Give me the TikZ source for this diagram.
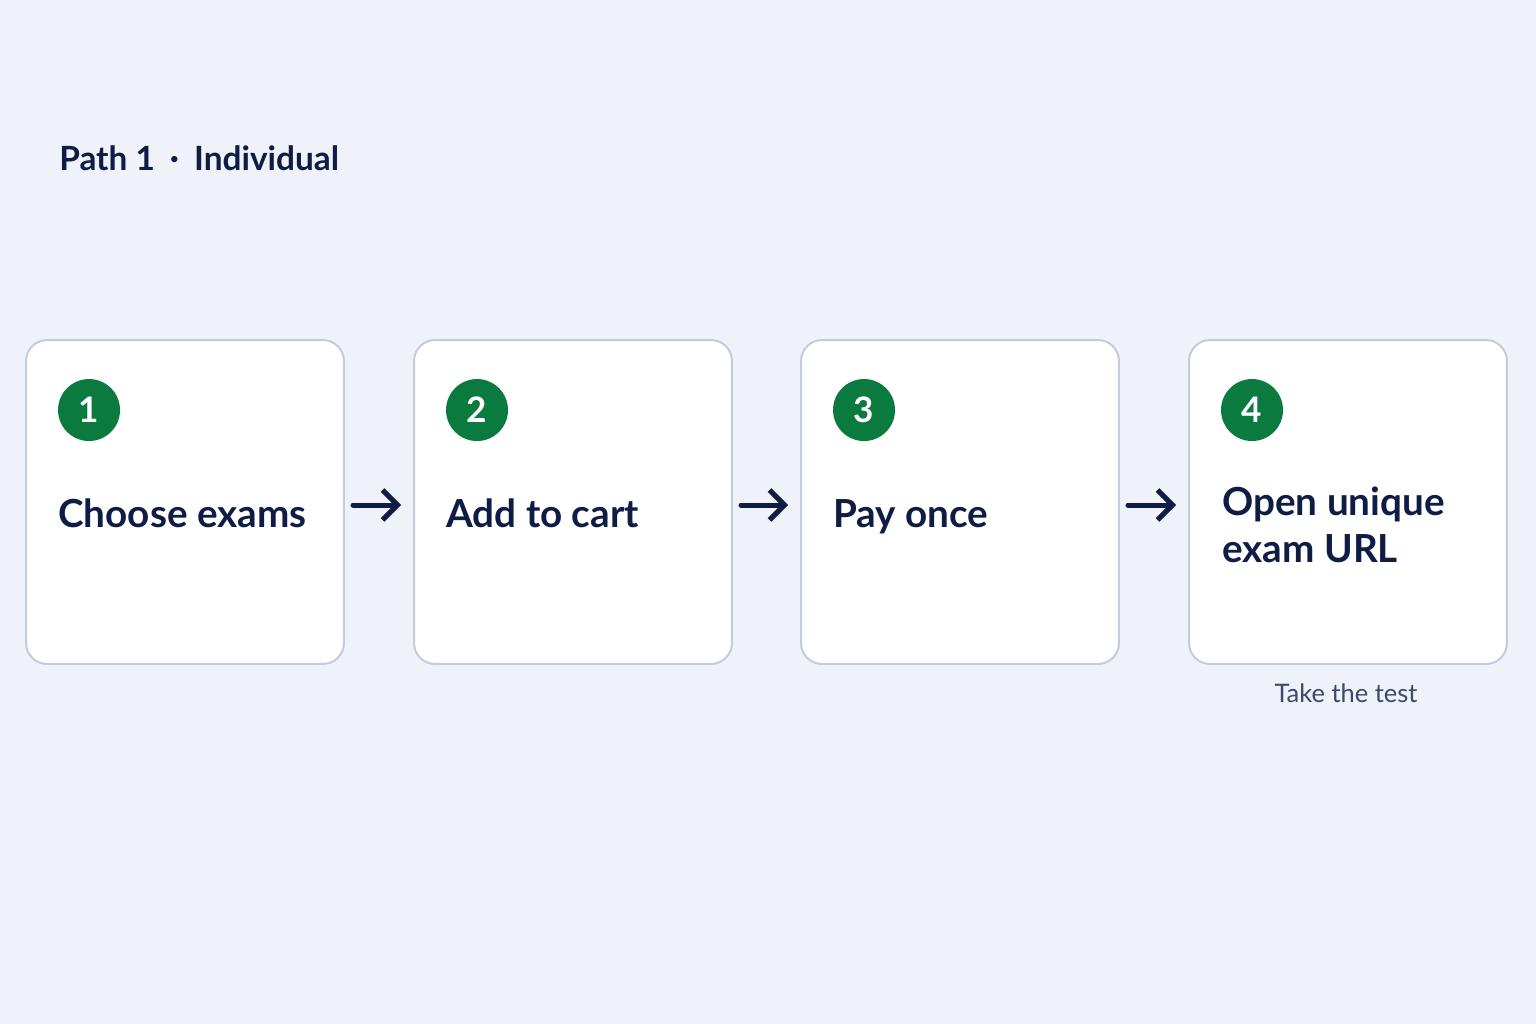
\documentclass[tikz,border=0pt]{standalone}
\usepackage{fontspec}
\setmainfont{Lato}
\usetikzlibrary{calc}
\definecolor{bgcol}{HTML}{EFF2F8}
\definecolor{navy}{HTML}{0F1D45}
\definecolor{stepgreen}{HTML}{0A7A3E}
\definecolor{boxline}{HTML}{C5CBDF}
\definecolor{subtext}{HTML}{3A4A6E}
\tikzset{
  stepbox/.style={draw=boxline, line width=0.04cm, fill=white, rounded corners=0.42cm,
    minimum width=6.36cm, minimum height=6.48cm, inner sep=0pt},
  badge/.style={circle, fill=stepgreen, text=white, minimum size=1.24cm, inner sep=0pt,
    font=\fontsize{20}{20}\selectfont\bfseries},
  steplabel/.style={anchor=base west, align=left, text=navy, inner sep=0pt,
    font=\fontsize{22}{26.5}\selectfont\bfseries},
  flow/.style={draw=navy, line width=0.1cm, line cap=round, -{Straight Barb[length=0.3cm,width=0.6cm,line width=0.1cm]}}
}
\usetikzlibrary{arrows.meta}
\begin{document}
\begin{tikzpicture}[x=0.02cm,y=-0.02cm]
% background
\fill[bgcol] (0,0) rectangle (1536,1024);
\useasboundingbox (0,0) rectangle (1536,1024);

% title
\node[anchor=base west, inner sep=0pt, text=navy, font=\fontsize{19}{20}\selectfont\bfseries] (title) at (59,171) {Path 1\hskip0.45em\raisebox{0.05em}{·}\hskip0.45em Individual};

% step boxes
\node[stepbox] (step1) at (185,502) {};
\node[stepbox] (step2) at (573,502) {};
\node[stepbox] (step3) at (960,502) {};
\node[stepbox] (step4) at (1348,502) {};

% badges and labels
\foreach \i/\txt in {1/{Choose exams},2/{Add to cart},3/{Pay once}} {
  \node[badge] (badge\i) at ($(step\i.north west)+(64,71)$) {\i};
  \node[steplabel] (label\i) at ($(step\i.west)+(33,25)$) {\txt};
}
\node[badge] (badge4) at ($(step4.north west)+(64,71)$) {4};
\node[steplabel] (label4) at ($(step4.west)+(34,60)$) {Open unique\\exam URL};

% connectors
\draw[flow] ($(step1.east)+(8,3)$) -- ($(step2.west)+(-12,3)$);
\draw[flow] ($(step2.east)+(8,3)$) -- ($(step3.west)+(-12,3)$);
\draw[flow] ($(step3.east)+(8,3)$) -- ($(step4.west)+(-12,3)$);

% caption
\node[text=subtext, font=\fontsize{14.5}{15}\selectfont] (caption) at ($(step4.south)+(-2,28)$) {Take the test};
\end{tikzpicture}
\end{document}
